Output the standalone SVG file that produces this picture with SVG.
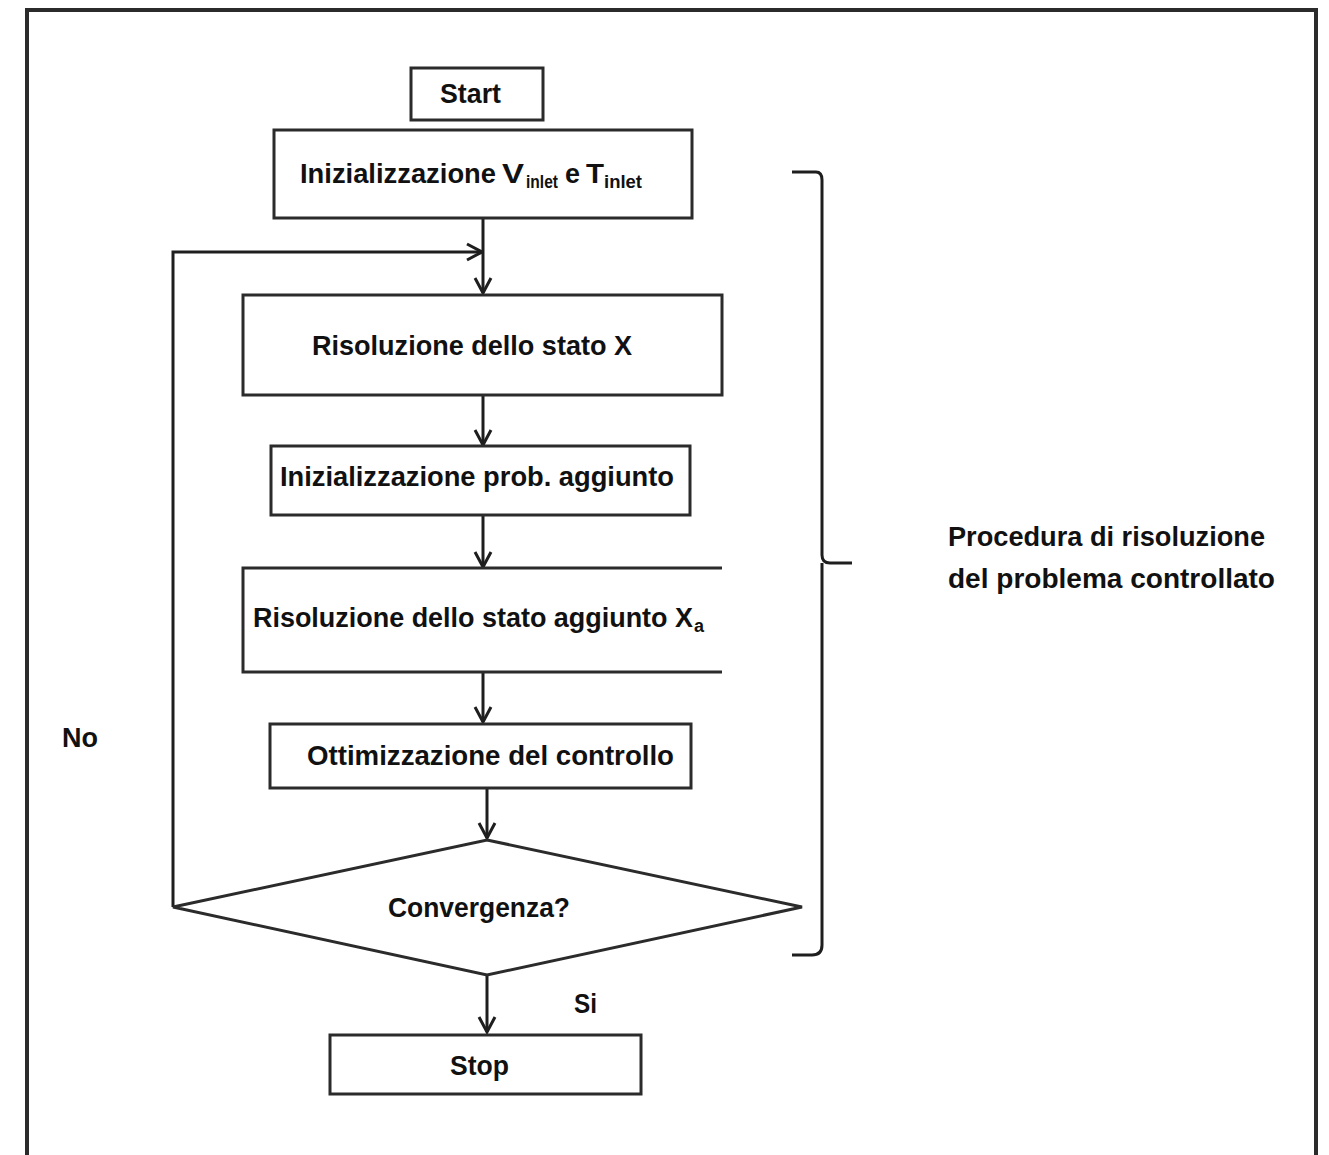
<svg xmlns="http://www.w3.org/2000/svg" width="1329" height="1155" viewBox="0 0 1329 1155">
<style>
.box{fill:#fff;stroke:#2b2b2b;stroke-width:3}
.ln{fill:none;stroke:#1e1e1e;stroke-width:3}
.t{font-family:"Liberation Sans",Arial,sans-serif;font-weight:bold;font-size:27px;fill:#111}
.s{font-size:18px}
</style>
<defs>
<marker id="ah" viewBox="0 0 22 22" refX="20" refY="11" markerWidth="22" markerHeight="22" markerUnits="userSpaceOnUse" orient="auto">
<polyline points="5,3 20,11 5,19" fill="none" stroke="#1e1e1e" stroke-width="3"/>
</marker>
</defs>
<rect width="1329" height="1155" fill="#fff"/>
<path d="M27,1155 V10 H1316 V1155" fill="none" stroke="#2b2b2b" stroke-width="4"/>

<g id="connectors">
<line class="ln" x1="483" y1="218" x2="483" y2="293" marker-end="url(#ah)"/>
<polyline class="ln" points="173,907 173,252 482,252" marker-end="url(#ah)"/>
<line class="ln" x1="483" y1="395" x2="483" y2="445" marker-end="url(#ah)"/>
<line class="ln" x1="483" y1="515" x2="483" y2="567" marker-end="url(#ah)"/>
<line class="ln" x1="483" y1="672" x2="483" y2="722" marker-end="url(#ah)"/>
<line class="ln" x1="487" y1="788" x2="487" y2="838" marker-end="url(#ah)"/>
<line class="ln" x1="487" y1="975" x2="487" y2="1032" marker-end="url(#ah)"/>
</g>

<g id="start">
<rect class="box" x="411" y="68" width="132" height="52"/>
<text class="t" x="440" y="103" textLength="61" lengthAdjust="spacingAndGlyphs">Start</text>
</g>
<g id="init">
<rect class="box" x="274" y="130" width="418" height="88"/>
<text class="t" y="183"><tspan x="300" textLength="196" lengthAdjust="spacingAndGlyphs">Inizializzazione</tspan><tspan x="502" textLength="22" lengthAdjust="spacingAndGlyphs">V</tspan><tspan class="s" x="526" dy="5" textLength="32" lengthAdjust="spacingAndGlyphs">inlet</tspan><tspan x="565" dy="-5" textLength="15" lengthAdjust="spacingAndGlyphs">e</tspan><tspan x="586" textLength="18" lengthAdjust="spacingAndGlyphs">T</tspan><tspan class="s" x="604" dy="5" textLength="38" lengthAdjust="spacingAndGlyphs">inlet</tspan></text>
</g>
<g id="risoluzione-x">
<rect class="box" x="243" y="295" width="479" height="100"/>
<text class="t" x="312" y="355" textLength="320" lengthAdjust="spacingAndGlyphs">Risoluzione dello stato X</text>
</g>
<g id="init-aggiunto">
<rect class="box" x="271" y="446" width="419" height="69"/>
<text class="t" x="280" y="486" textLength="394" lengthAdjust="spacingAndGlyphs">Inizializzazione prob. aggiunto</text>
</g>
<g id="risoluzione-xa">
<path class="box" d="M722,568 H243 V672 H722"/>
<text class="t" y="627"><tspan x="253" textLength="440" lengthAdjust="spacingAndGlyphs">Risoluzione dello stato aggiunto X</tspan><tspan class="s" x="694" dy="5">a</tspan></text>
</g>
<g id="ottimizzazione">
<rect class="box" x="270" y="724" width="421" height="64"/>
<text class="t" x="307" y="765" textLength="367" lengthAdjust="spacingAndGlyphs">Ottimizzazione del controllo</text>
</g>
<g id="convergenza">
<polygon class="box" points="487,840 802,907 487,975 173,907"/>
<text class="t" x="388" y="917" textLength="182" lengthAdjust="spacingAndGlyphs">Convergenza?</text>
</g>
<g id="stop">
<rect class="box" x="330" y="1035" width="311" height="59"/>
<text class="t" x="450" y="1075" textLength="59" lengthAdjust="spacingAndGlyphs">Stop</text>
</g>
<g id="labels">
<text class="t" x="574" y="1013" textLength="23" lengthAdjust="spacingAndGlyphs">Si</text>
<text class="t" x="62" y="747" textLength="36" lengthAdjust="spacingAndGlyphs">No</text>
<path class="ln" d="M792,172 H816 Q822,172 822,180 V555 Q822,563 830,563 H852 M822,563 Q822,571 822,575 V945 Q822,955 812,955 H792" stroke-width="3"/>
<text class="t" x="948" y="546" textLength="317" lengthAdjust="spacingAndGlyphs">Procedura di risoluzione</text>
<text class="t" x="948" y="588" textLength="327" lengthAdjust="spacingAndGlyphs">del problema controllato</text>
</g>
</svg>
